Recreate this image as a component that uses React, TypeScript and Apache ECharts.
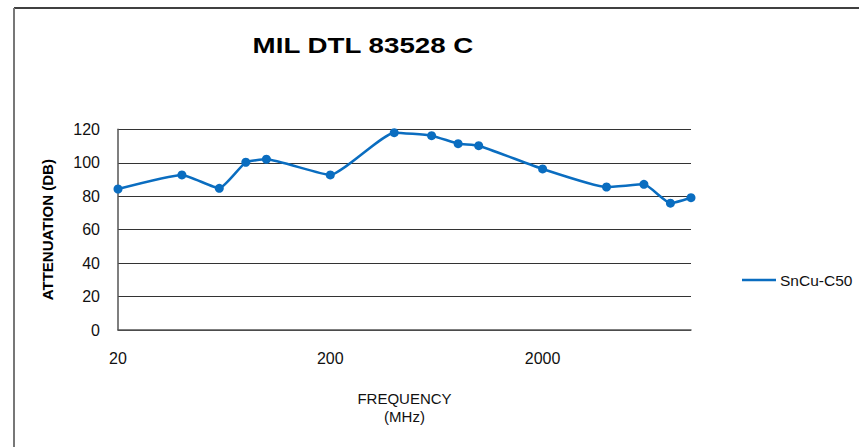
import React, { useEffect, useRef } from "react";
import * as echarts from "echarts";

const frequencies = [20, 40, 60, 80, 100, 200, 400, 600, 800, 1000, 2000, 4000, 6000, 8000, 10000];
const attenuation = [84.3, 92.7, 84.7, 100.3, 102.1, 92.7, 118, 116.2, 111.4, 110.2, 96.3, 85.5, 87.1, 75.8, 79.1];
const xTickLabels = [20, 200, 2000];
const seriesName = "SnCu-C50";
const titleText = "MIL DTL 83528 C";
const xAxisTitle = "FREQUENCY\n(MHz)";
const yAxisTitle = "ATTENUATION (DB)";

const FONT = "'Liberation Sans', Arial, Helvetica, sans-serif";
const BLUE = "#0A6DC0";

export default function App() {
  const ref = useRef<HTMLDivElement>(null);
  useEffect(() => {
    if (!ref.current) return;
    const chart = echarts.init(ref.current, null, { renderer: "svg" });
    const points = frequencies.map((f, i) => [f, attenuation[i]]);
    chart.setOption({
      animation: false,
      backgroundColor: "#fff",
      textStyle: { fontFamily: FONT, fontSize: 15 },
      grid: { left: 118, right: 168, top: 129.3, bottom: 117 },
      graphic: [
        { type: "line", shape: { x1: 14, y1: 8, x2: 859, y2: 8 }, style: { stroke: "#000", lineWidth: 1.5 } },
        { type: "line", shape: { x1: 14, y1: 8, x2: 14, y2: 447 }, style: { stroke: "#777", lineWidth: 2 } },
        {
          type: "text",
          x: 363,
          y: 45.5,
          scaleX: 1.26,
          style: {
            text: titleText,
            fontSize: 22,
            fontWeight: "bold",
            fontFamily: FONT,
            fill: "#000",
            align: "center",
            verticalAlign: "middle",
            textAlign: "center",
            textVerticalAlign: "middle",
          },
        },
      ],
      legend: {
        left: 742,
        top: 272,
        padding: 0,
        icon: "rect",
        itemWidth: 34,
        itemHeight: 2.5,
        itemGap: 10,
        textStyle: { fontSize: 15.5, color: "#111", fontFamily: FONT, padding: [0, 0, 0, -1] },
        data: [seriesName],
      },
      xAxis: {
        type: "log",
        logBase: 10,
        min: 20,
        max: 10000,
        name: xAxisTitle,
        nameLocation: "middle",
        nameGap: 59,
        nameTextStyle: { fontSize: 15, color: "#111", lineHeight: 18, fontFamily: FONT },
        axisLine: { show: true, lineStyle: { color: "#555", width: 1.5 } },
        axisTick: { show: false },
        splitLine: { show: false },
        minorSplitLine: { show: false },
        axisLabel: {
          customValues: xTickLabels,
          formatter: (v: number) => String(Math.round(v)),
          fontSize: 16,
          color: "#111",
          margin: 20,
          fontFamily: FONT,
        },
      },
      yAxis: {
        type: "value",
        min: 0,
        max: 120,
        interval: 20,
        name: yAxisTitle,
        nameLocation: "middle",
        nameGap: 63,
        nameTextStyle: { fontSize: 15, fontWeight: "bold", color: "#000", fontFamily: FONT },
        axisLine: { show: true, lineStyle: { color: "#555", width: 1.5 } },
        axisTick: { show: false },
        axisLabel: { fontSize: 16, color: "#111", margin: 18, fontFamily: FONT },
        splitLine: { show: true, lineStyle: { color: "#333", width: 1 } },
      },
      series: [
        {
          name: seriesName,
          type: "line",
          data: points,
          smooth: 0.15,
          symbol: "circle",
          symbolSize: 9,
          itemStyle: { color: BLUE },
          lineStyle: { color: BLUE, width: 2.5 },
        },
      ],
    });
    return () => chart.dispose();
  }, []);
  return (
    <div
      ref={ref}
      style={{ position: "fixed", left: 0, top: 0, width: 859, height: 447, background: "#fff" }}
    />
  );
}
